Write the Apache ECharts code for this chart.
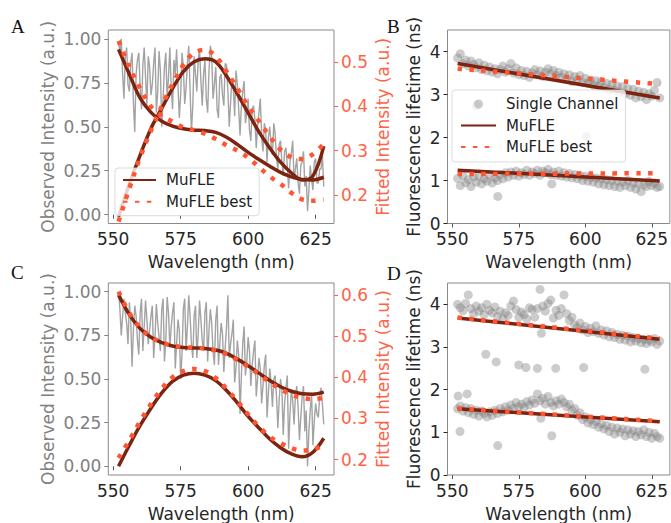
<!DOCTYPE html>
<html><head><meta charset="utf-8">
<script src="https://cdn.jsdelivr.net/npm/echarts@6/dist/echarts.min.js"></script>
<style>html,body{margin:0;padding:0;background:#fff}#c{width:671px;height:523px}</style>
</head><body><div id="c"></div>
<script>
// ---------- data ----------
const obsWl = [552,552.5,553,553.5,554,554.5,555,555.5,556,556.5,557,557.5,558,558.5,559,559.5,560,560.5,561,561.5,
  562,562.5,563,563.5,564,564.5,565,565.5,566,566.5,567,567.5,568,568.5,569,569.5,570,570.5,571,571.5,
  572,572.5,573,573.5,574,574.5,575,575.5,576,576.5,577,577.5,578,578.5,579,579.5,580,580.5,581,581.5,
  582,582.5,583,583.5,584,584.5,585,585.5,586,586.5,587,587.5,588,588.5,589,589.5,590,590.5,591,591.5,
  592,592.5,593,593.5,594,594.5,595,595.5,596,596.5,597,597.5,598,598.5,599,599.5,600,600.5,601,601.5,
  602,602.5,603,603.5,604,604.5,605,605.5,606,606.5,607,607.5,608,608.5,609,609.5,610,610.5,611,611.5,
  612,612.5,613,613.5,614,614.5,615,615.5,616,616.5,617,617.5,618,618.5,619,619.5,620,620.5,621,621.5,
  622,622.5,623,623.5,624,624.5,625,625.5,626,626.5,627,627.5,628];
const chanWl = [552,553,554,555,556,557,558,559,560,561,562,563,564,565,566,567,568,569,570,571,
  572,573,574,575,576,577,578,579,580,581,582,583,584,585,586,587,588,589,590,591,
  592,593,594,595,596,597,598,599,600,601,602,603,604,605,606,607,608,609,610,611,
  612,613,614,615,616,617,618,619,620,621,622,623,624,625,626,627,628];
const fitWl = [552,556,560,564,568,572,576,580,584,588,592,596,600,604,608,612,616,620,624,628];
const lineEnds = [552, 628];

const xTicks = [550, 575, 600, 625];
const obsTicks = [0, 0.25, 0.5, 0.75, 1];
const fitTicksA = [0.2, 0.3, 0.4, 0.5];
const fitTicksC = [0.2, 0.3, 0.4, 0.5, 0.6];
const lifeTicks = [0, 1, 2, 3, 4];

// Panel A
const obsA = [0.98,0.93,1.00,0.80,0.66,0.90,0.95,0.74,0.70,0.86,
  0.92,0.64,0.47,0.80,0.88,0.92,0.72,0.60,0.85,0.95,
  0.78,0.62,0.90,0.84,0.68,0.74,0.86,0.95,0.58,0.70,
  0.93,0.82,0.50,0.66,0.84,0.92,0.66,0.78,0.95,0.72,
  0.60,0.88,0.80,0.94,0.74,0.55,0.68,0.92,0.84,0.63,
  0.72,0.86,0.96,0.70,0.47,0.62,0.90,0.80,0.70,0.88,
  0.94,0.76,0.62,0.80,0.88,0.66,0.58,0.82,0.96,0.90,
  0.66,0.74,0.84,0.60,0.55,0.78,0.80,0.68,0.62,0.86,
  0.85,0.70,0.50,0.64,0.78,0.72,0.56,0.82,0.74,0.60,
  0.45,0.62,0.70,0.76,0.52,0.58,0.66,0.48,0.42,0.60,
  0.62,0.54,0.38,0.50,0.58,0.66,0.44,0.36,0.52,0.48,
  0.30,0.44,0.50,0.40,0.34,0.52,0.46,0.32,0.26,0.40,
  0.42,0.30,0.22,0.36,0.38,0.28,0.15,0.30,0.35,0.42,
  0.20,0.26,0.32,0.18,0.12,0.28,0.30,0.36,0.16,0.22,
  0.02,0.14,0.28,0.20,0.14,0.30,0.32,0.18,0.18,0.26,
  0.26,0.34,0.16];
const fitA1 = [0.528,0.472,0.418,0.386,0.366,0.355,0.349,0.346,0.345,0.341,0.330,0.314,0.296,0.280,0.265,0.251,0.241,0.235,0.234,0.240];
const fitA2 = [0.151,0.225,0.290,0.350,0.395,0.440,0.478,0.500,0.507,0.500,0.468,0.428,0.385,0.342,0.306,0.274,0.250,0.234,0.243,0.310];
const bestA1 = [0.547,0.488,0.440,0.399,0.378,0.365,0.352,0.346,0.338,0.326,0.312,0.300,0.284,0.263,0.242,0.225,0.205,0.190,0.187,0.190];
const bestA2 = [0.140,0.215,0.285,0.345,0.400,0.450,0.493,0.520,0.527,0.512,0.478,0.440,0.400,0.366,0.332,0.302,0.285,0.281,0.292,0.315];

// Panel C
const obsC = [1.00,0.90,0.75,0.86,0.96,0.88,0.82,0.70,0.94,0.84,
  0.57,0.78,0.92,0.86,0.72,0.64,0.88,0.96,0.66,0.80,
  0.95,0.84,0.70,0.78,0.86,0.92,0.62,0.74,0.93,0.82,
  0.74,0.66,0.90,0.96,0.60,0.72,0.97,0.88,0.68,0.80,
  0.88,0.94,0.56,0.70,0.84,0.78,0.50,0.64,0.90,0.96,
  0.66,0.80,0.98,0.86,0.70,0.62,0.86,0.92,0.62,0.76,
  0.95,0.84,0.72,0.66,0.88,0.94,0.60,0.78,0.90,0.82,
  0.66,0.58,0.84,0.92,0.58,0.70,0.82,0.76,0.54,0.68,
  0.80,0.98,0.62,0.70,0.76,0.84,0.48,0.56,0.72,0.64,
  0.30,0.52,0.70,0.80,0.52,0.60,0.74,0.66,0.46,0.58,
  0.66,0.72,0.40,0.50,0.62,0.56,0.36,0.46,0.58,0.64,
  0.28,0.42,0.56,0.48,0.34,0.50,0.52,0.40,0.22,0.38,
  0.50,0.44,0.18,0.36,0.45,0.52,0.10,0.30,0.44,0.38,
  0.24,0.40,0.46,0.34,0.15,0.28,0.40,0.46,0.20,0.32,
  0.00,0.20,0.32,0.42,0.12,0.26,0.36,0.30,0.28,0.40,
  0.45,0.36,0.24];
const fitC1 = [0.600,0.552,0.518,0.497,0.484,0.476,0.472,0.471,0.470,0.466,0.458,0.444,0.428,0.410,0.392,0.377,0.366,0.360,0.359,0.364];
const fitC2 = [0.184,0.235,0.283,0.325,0.362,0.390,0.405,0.410,0.405,0.392,0.368,0.338,0.305,0.277,0.250,0.229,0.214,0.207,0.218,0.252];
const bestC1 = [0.608,0.556,0.520,0.498,0.485,0.477,0.473,0.472,0.470,0.465,0.456,0.442,0.426,0.407,0.388,0.371,0.358,0.350,0.347,0.350];
const bestC2 = [0.204,0.247,0.293,0.335,0.372,0.400,0.415,0.420,0.415,0.398,0.372,0.342,0.310,0.280,0.256,0.240,0.228,0.222,0.225,0.235];

// Panel B
const bScatUp = [3.85,3.95,3.72,3.80,3.66,3.78,3.70,3.62,3.74,3.58,
  3.68,3.55,3.64,3.52,3.60,3.48,3.58,3.66,3.52,3.60,
  3.72,3.50,3.62,3.46,3.56,3.44,3.54,3.40,3.50,3.58,
  3.46,3.55,3.42,3.52,3.60,3.48,3.56,3.44,3.52,3.40,
  3.48,3.36,3.46,3.30,3.42,3.34,3.44,3.28,3.38,3.26,
  3.34,3.22,3.32,3.20,3.30,3.16,3.26,3.12,3.24,3.10,
  3.20,3.06,3.18,3.02,3.14,2.98,3.12,2.92,3.08,2.95,
  3.05,2.88,3.02,2.96,3.10,3.28,2.92];
const bScatLo = [1.05,0.88,1.12,0.95,1.02,0.86,1.08,0.96,1.10,0.92,
  1.04,0.98,1.12,0.94,1.06,1.00,1.14,1.04,1.18,1.08,
  1.20,1.12,1.22,1.10,1.18,1.14,1.24,1.12,1.20,1.16,
  1.24,1.12,1.22,1.18,1.26,1.14,1.20,1.12,1.22,1.10,
  1.18,1.08,1.16,1.06,1.14,1.04,1.12,1.00,1.10,0.98,
  1.08,0.96,1.06,0.92,1.04,0.90,1.02,0.88,1.00,0.86,
  0.98,0.84,0.96,0.88,1.00,0.84,0.94,0.80,0.92,0.74,
  0.90,0.86,0.98,0.88,0.94,0.84,0.86];
const bOutWl = [559, 600.4, 567.1, 587.4];
const bOutVal = [2.74, 2.03, 0.63, 0.92];
const bLineUp = [3.72, 2.92];
const bLineLo = [1.24, 0.99];
const bBestUp = [3.60, 3.24];
const bBestLo = [1.15, 1.17];

// Panel D
const dScatUp = [4.00,3.92,3.85,4.02,4.22,3.90,3.78,3.96,3.84,3.92,
  3.76,4.00,3.86,3.80,3.94,3.72,3.84,3.66,3.80,3.74,
  3.96,4.08,3.88,3.70,3.82,3.76,3.66,3.92,3.88,3.70,
  3.90,4.35,3.96,3.84,4.02,4.10,3.68,3.86,3.74,3.90,
  4.22,3.78,3.62,3.70,3.52,3.46,3.56,3.40,3.48,3.34,
  3.44,3.36,3.50,3.32,3.40,3.28,3.38,3.24,3.34,3.22,
  3.30,3.18,3.28,3.16,3.26,3.12,3.22,3.14,3.20,3.10,
  3.18,3.08,3.16,3.12,3.20,3.06,3.14];
const dScatLo = [1.55,1.62,1.50,1.58,1.46,1.56,1.42,1.52,1.38,1.50,
  1.44,1.36,1.48,1.40,1.52,1.44,1.56,1.48,1.60,1.52,
  1.64,1.56,1.70,1.60,1.66,1.58,1.72,1.64,1.76,1.68,
  1.90,1.74,1.80,1.66,1.84,1.70,1.62,1.74,1.66,1.78,
  1.70,1.60,1.66,1.52,1.56,1.40,1.46,1.30,1.36,1.22,
  1.30,1.18,1.26,1.12,1.20,1.08,1.16,1.02,1.12,0.96,
  1.10,1.00,1.08,0.92,1.06,0.96,1.04,0.90,1.02,0.94,
  1.06,0.90,1.00,0.86,0.98,0.90,0.86];
const dOutWl = [562.6,566.5,575.0,577.7,582.0,588.9,599.4,622.4,583.5,552.9,567.1,587.4,583.3,552.2,555.6];
const dOutVal = [2.83,2.65,2.58,2.52,2.50,2.50,2.52,2.48,3.32,1.02,0.69,0.92,1.33,1.85,1.90];
const dLineUp = [3.68, 3.18];
const dLineLo = [1.55, 1.25];
const dBestUp = [3.69, 3.20];
const dBestLo = [1.56, 1.26];

// ---------- styles ----------
const F = 'DejaVu Sans';
const BROWN = '#7c2410', DOT = '#ff5533', TOMATO = '#ff6347', GRAYT = '#808080', DARK = '#262626';
const XMIN = 548.2, XMAX = 631.8;
const NONE = 'rgba(0,0,0,0)';

const zip = (xs, ys) => xs.map((x, k) => [x, ys[k]]);

const grids = [
  {left: 108.3, top: 30, width: 225.7, height: 193.5},
  {left: 447.5, top: 30, width: 224, height: 193.5},
  {left: 108.3, top: 283, width: 225.7, height: 193.5},
  {left: 447.5, top: 283, width: 224, height: 193.5}
].map(g => Object.assign({show: true, borderColor: '#8a8a8a', borderWidth: 1, backgroundColor: 'transparent'}, g));

function xAx(i) {
  return {type: 'value', gridIndex: i, min: XMIN, max: XMAX,
    name: 'Wavelength (nm)', nameLocation: 'middle', nameGap: 30,
    nameTextStyle: {fontFamily: F, fontSize: 17, color: DARK},
    axisLine: {show: false}, splitLine: {show: false},
    axisTick: {show: true, customValues: xTicks, length: 4, lineStyle: {color: '#555'}},
    axisLabel: {customValues: xTicks, fontFamily: F, fontSize: 17, color: DARK, margin: 7}};
}
function yAx(i, pos, min, max, ticks, dec, name, color, gap) {
  return {type: 'value', gridIndex: i, position: pos, min: min, max: max,
    name: name, nameLocation: 'middle', nameGap: gap,
    nameTextStyle: {fontFamily: F, fontSize: 17, color: color},
    axisLine: {show: false}, splitLine: {show: false},
    axisTick: {show: true, customValues: ticks, length: 4, lineStyle: {color: color}},
    axisLabel: {customValues: ticks, fontFamily: F, fontSize: 17, color: color, margin: 7,
      formatter: v => Number(v).toFixed(dec)}};
}

function brown(xi, yi, xs, ys) {
  return {type: 'line', name: 'MuFLE', xAxisIndex: xi, yAxisIndex: yi, data: zip(xs, ys),
    symbol: 'none', smooth: 0.35, z: 3, silent: true,
    lineStyle: {color: BROWN, width: 3.5}, itemStyle: {color: NONE, borderWidth: 0}};
}
function best(xi, yi, xs, ys) {
  return {type: 'line', name: 'MuFLE best', xAxisIndex: xi, yAxisIndex: yi, data: zip(xs, ys),
    symbol: 'none', smooth: 0.35, z: 4, silent: true,
    lineStyle: {color: DOT, width: 4.5, type: [4.5, 7.4], cap: 'butt'}, itemStyle: {color: NONE, borderWidth: 0}};
}
function obs(xi, yi, ys) {
  return {type: 'line', name: 'Observed', xAxisIndex: xi, yAxisIndex: yi, data: zip(obsWl, ys),
    symbol: 'none', z: 2, silent: true,
    lineStyle: {color: 'rgba(128,128,128,0.72)', width: 1.4}};
}
function scat(xi, yi, xs, ys) {
  return {type: 'scatter', name: 'Single Channel', xAxisIndex: xi, yAxisIndex: yi, data: zip(xs, ys),
    symbol: 'circle', symbolSize: 9, z: 2, silent: true,
    itemStyle: {color: '#808080', opacity: 0.4}};
}

const legendText = {fontFamily: F, fontSize: 15, color: '#222', lineHeight: 16, padding: [0, 0, 0, 5]};

const option = {
  animation: false,
  backgroundColor: '#fff',
  grid: grids,
  xAxis: [xAx(0), xAx(1), xAx(2), xAx(3)],
  yAxis: [
    yAx(0, 'left', -0.05, 1.05, obsTicks, 2, 'Observed Intensity (a.u.)', GRAYT, 52),
    yAx(0, 'right', 0.1359, 0.5715, fitTicksA, 1, 'Fitted Intensity (a.u.)', TOMATO, 40),
    yAx(1, 'left', 0, 4.5, lifeTicks, 0, 'Fluorescence lifetime (ns)', DARK, 25),
    yAx(2, 'left', -0.05, 1.05, obsTicks, 2, 'Observed Intensity (a.u.)', GRAYT, 52),
    yAx(2, 'right', 0.1628, 0.6288, fitTicksC, 1, 'Fitted Intensity (a.u.)', TOMATO, 40),
    yAx(3, 'left', 0, 4.5, lifeTicks, 0, 'Fluorescence lifetime (ns)', DARK, 25)
  ],
  legend: [
    {left: 115, top: 168, orient: 'vertical', data: ['MuFLE', 'MuFLE best'], selectedMode: false,
     itemWidth: 33, itemHeight: 9, itemGap: 5.7, padding: [4, 7, 6, 7],
     backgroundColor: 'rgba(255,255,255,0.8)', borderColor: 'rgba(210,210,210,0.8)', borderWidth: 1, borderRadius: 3,
     textStyle: legendText},
    {left: 452, top: 90, orient: 'vertical', data: ['Single Channel', 'MuFLE', 'MuFLE best'], selectedMode: false,
     itemWidth: 35, itemHeight: 9, itemGap: 5.5, padding: [6, 7, 7, 8],
     backgroundColor: 'rgba(255,255,255,0.8)', borderColor: 'rgba(210,210,210,0.8)', borderWidth: 1, borderRadius: 3,
     textStyle: legendText}
  ],
  graphic: [
    {type: 'text', left: 11, top: 17, style: {text: 'A', font: '19px "Liberation Serif"', fill: '#111'}},
    {type: 'text', left: 387, top: 17, style: {text: 'B', font: '19px "Liberation Serif"', fill: '#111'}},
    {type: 'text', left: 11, top: 263, style: {text: 'C', font: '19px "Liberation Serif"', fill: '#111'}},
    {type: 'text', left: 387, top: 264, style: {text: 'D', font: '19px "Liberation Serif"', fill: '#111'}}
  ],
  series: [
    // A
    obs(0, 0, obsA),
    brown(0, 1, fitWl, fitA1), brown(0, 1, fitWl, fitA2),
    best(0, 1, fitWl, bestA1), best(0, 1, fitWl, bestA2),
    // B
    scat(1, 2, chanWl, bScatUp), scat(1, 2, chanWl, bScatLo), scat(1, 2, bOutWl, bOutVal),
    brown(1, 2, lineEnds, bLineUp), brown(1, 2, lineEnds, bLineLo),
    best(1, 2, lineEnds, bBestUp), best(1, 2, lineEnds, bBestLo),
    // C
    obs(2, 3, obsC),
    brown(2, 4, fitWl, fitC1), brown(2, 4, fitWl, fitC2),
    best(2, 4, fitWl, bestC1), best(2, 4, fitWl, bestC2),
    // D
    scat(3, 5, chanWl, dScatUp), scat(3, 5, chanWl, dScatLo), scat(3, 5, dOutWl, dOutVal),
    brown(3, 5, lineEnds, dLineUp), brown(3, 5, lineEnds, dLineLo),
    best(3, 5, lineEnds, dBestUp), best(3, 5, lineEnds, dBestLo)
  ]
};

const chart = echarts.init(document.getElementById('c'), null, {renderer: 'svg', width: 671, height: 523});
chart.setOption(option);
</script>
</body></html>
